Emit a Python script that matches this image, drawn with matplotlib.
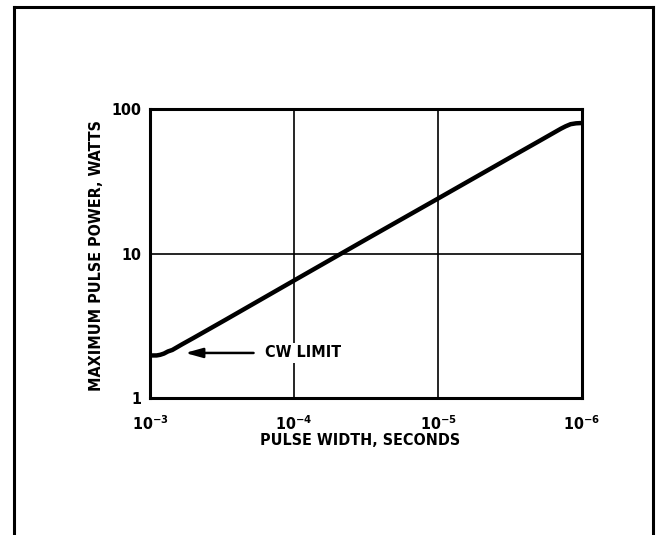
import matplotlib.pyplot as plt
from matplotlib.ticker import FixedLocator, FixedFormatter, NullFormatter

plt.rcParams["font.family"] = ["DejaVu Sans"]
plt.rcParams["font.stretch"] = "condensed"
plt.rcParams["font.weight"] = "bold"
plt.rcParams["mathtext.default"] = "regular"

# Curva de potência máxima de pulso
pulse_width = [1e-3, 9e-4, 8.5e-4, 8e-4, 7.5e-4, 7e-4, 6e-4, 5e-4, 3e-4, 1e-4,
               3e-5, 1e-5, 3e-6, 2e-6, 1.5e-6, 1.4e-6, 1.3e-6, 1.2e-6, 1.1e-6, 1e-6]
max_power = [1.97, 1.97, 1.99, 2.03, 2.10, 2.15, 2.35, 2.6, 3.47, 6.5,
             12.9, 24.0, 47.5, 59.7, 70.3, 73.1, 75.9, 78.5, 79.6, 80.0]

x_ticks = [1e-3, 1e-4, 1e-5, 1e-6]
x_tick_labels = [r"$10^{-3}$", r"$10^{-4}$", r"$10^{-5}$", r"$10^{-6}$"]
y_ticks = [1, 10, 100]
y_tick_labels = ["1", "10", "100"]

fig = plt.figure(figsize=(6.58, 5.35), dpi=100)
ax = fig.add_axes([150 / 658, 1 - 398 / 535, 432 / 658, 289 / 535])

ax.plot(pulse_width, max_power, color="black", linewidth=3.2,
        solid_joinstyle="round", solid_capstyle="butt", zorder=3)

ax.set_xscale("log")
ax.set_yscale("log")
ax.set_xlim(1e-3, 1e-6)
ax.set_ylim(1, 100)

ax.xaxis.set_major_locator(FixedLocator(x_ticks))
ax.xaxis.set_major_formatter(FixedFormatter(x_tick_labels))
ax.yaxis.set_major_locator(FixedLocator(y_ticks))
ax.yaxis.set_major_formatter(FixedFormatter(y_tick_labels))
ax.xaxis.set_minor_formatter(NullFormatter())
ax.yaxis.set_minor_formatter(NullFormatter())
ax.tick_params(which="both", length=0, labelsize=11.5)
ax.tick_params(axis="x", pad=12)
ax.tick_params(axis="y", pad=6)

ax.grid(True, which="major", color="black", linewidth=1.2)
for s in ax.spines.values():
    s.set_linewidth(2.2)

ax.set_xlabel("PULSE WIDTH, SECONDS", fontsize=11.5, fontweight="bold")
ax.xaxis.set_label_coords(0.486, -0.148)
ax.set_ylabel("MAXIMUM PULSE POWER, WATTS", fontsize=11.5, fontweight="bold")
ax.yaxis.set_label_coords(-0.123, 0.493)
ax.xaxis.label.set_va("center")
ax.yaxis.label.set_va("center")

ax.annotate("CW LIMIT", xy=(5.7e-4, 2.05), xytext=(1.6e-4, 2.05),
            ha="left", va="center", fontsize=11.5, fontweight="bold",
            bbox=dict(facecolor="white", edgecolor="none", pad=2),
            arrowprops=dict(arrowstyle="-|>,head_length=0.9,head_width=0.25",
                            color="black", linewidth=1.8, shrinkA=6, shrinkB=0),
            zorder=4)

# moldura externa
fig.add_artist(plt.Line2D([14 / 658, 14 / 658], [0, 1 - 7 / 535], color="black", linewidth=2.2))
fig.add_artist(plt.Line2D([653 / 658, 653 / 658], [0, 1 - 7 / 535], color="black", linewidth=2.2))
fig.add_artist(plt.Line2D([14 / 658, 653 / 658], [1 - 7 / 535, 1 - 7 / 535], color="black", linewidth=2.2))

fig.savefig("out.png", dpi=100)
